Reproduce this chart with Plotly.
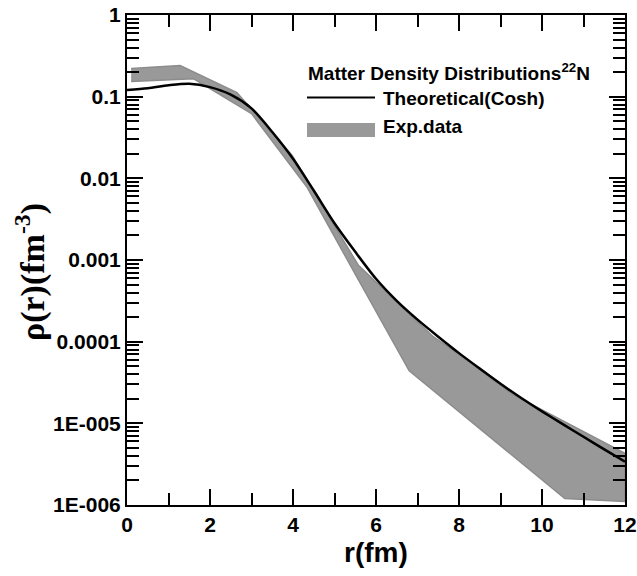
import plotly.graph_objects as go

# Theoretical (Cosh) matter density of 22N
r_theory = [0.0, 0.5, 1.0, 1.5, 2.0, 2.5, 3.0, 3.5, 4.0, 4.5, 5.0, 5.5, 6.0,
            6.5, 7.0, 7.5, 8.0, 8.5, 9.0, 9.5, 10.0, 10.5, 11.0, 11.5, 12.0]
rho_theory = [0.121, 0.127, 0.138, 0.144, 0.131, 0.106, 0.072, 0.037, 0.0174,
              0.0071, 0.00282, 0.00126, 5.89e-4, 3.16e-4, 1.86e-4, 1.15e-4, 7.24e-5,
              4.68e-5, 3.05e-5, 2.04e-5, 1.40e-5, 9.77e-6, 6.84e-6, 4.79e-6, 3.39e-6]

# Experimental band (upper and lower limits)
band_upper_r = [0.1, 1.28, 2.65, 3.97, 5.57, 7.38, 8.2, 9.3, 12.0]
band_upper = [0.222, 0.24, 0.112, 0.0193, 8.7e-4, 1.15e-4, 5.9e-5, 2.25e-5, 4.3e-6]
band_lower_r = [0.1, 1.6, 3.0, 4.33, 5.53, 6.8, 10.55, 12.0]
band_lower = [0.153, 0.166, 0.062, 0.0079, 6.3e-4, 4.4e-5, 1.2e-6, 1.1e-6]

y_tickvals = [1, 0.1, 0.01, 0.001, 0.0001, 1e-5, 1e-6]
y_ticktext = ["1", "0.1", "0.01", "0.001", "0.0001", "1E-005", "1E-006"]
x_tickvals = [0, 2, 4, 6, 8, 10, 12]

band_x = band_upper_r + band_lower_r[::-1]
band_y = band_upper + band_lower[::-1]

fig = go.Figure()
fig.add_trace(go.Scatter(
    x=band_x, y=band_y, mode="lines", fill="toself",
    fillcolor="rgb(153,153,153)", line=dict(color="rgb(140,140,140)", width=1.5),
    name="Exp.data", showlegend=False, hoverinfo="skip"))
fig.add_trace(go.Scatter(
    x=r_theory, y=rho_theory, mode="lines",
    line=dict(color="black", width=2.5, shape="spline", smoothing=0.8),
    name="Theoretical(Cosh)", showlegend=False))

tick_font = dict(family="Liberation Sans, Arial, sans-serif", size=21, color="black", weight="bold")

fig.update_xaxes(
    range=[0, 12], tickvals=x_tickvals, ticktext=[str(v) for v in x_tickvals],
    ticks="inside", ticklen=16, tickwidth=2, tickcolor="black",
    minor=dict(ticks="inside", ticklen=12, tickwidth=2, tickcolor="black", dtick=1),
    showline=True, linewidth=2, linecolor="black", mirror="allticks",
    showgrid=False, zeroline=False, tickfont=tick_font, automargin=False,
    ticklabeloverflow="allow")
fig.update_yaxes(
    type="log", range=[-6, 0], tickvals=y_tickvals, ticktext=y_ticktext,
    ticks="inside", ticklen=16, tickwidth=2, tickcolor="black",
    minor=dict(ticks="inside", ticklen=12, tickwidth=2, tickcolor="black", dtick="D1", showgrid=False),
    showline=True, linewidth=2, linecolor="black", mirror="allticks",
    showgrid=False, zeroline=False, tickfont=tick_font, automargin=False,
    ticklabeloverflow="allow")

# plot area on screen spans x 127-625, y 15-505
PW, PH, L0, B0 = 498.0, 490.0, 127.0, 505.0
def px(xs):
    return (xs - L0) / PW
def py(ys):
    return (B0 - ys) / PH

annotations = [
    dict(text="r(fm)", x=px(376), y=py(552), xref="paper", yref="paper",
         showarrow=False, xanchor="center", yanchor="middle",
         font=dict(family="Liberation Sans, Arial, sans-serif", size=28, color="black", weight="bold")),
    dict(text="ρ(r)(fm<sup>-3</sup>)", x=px(30), y=py(272), xref="paper", yref="paper",
         showarrow=False, xanchor="center", yanchor="middle", textangle=-90,
         font=dict(family="Liberation Serif, Times New Roman, serif", size=34, color="black", weight="bold")),
    dict(text="Matter Density Distributions<sup>22</sup>N", x=px(306), y=py(72), xref="paper", yref="paper",
         showarrow=False, xanchor="left", yanchor="middle",
         font=dict(family="Liberation Sans, Arial, sans-serif", size=19, color="black", weight="bold")),
    dict(text="Theoretical(Cosh)", x=px(381), y=py(98), xref="paper", yref="paper",
         showarrow=False, xanchor="left", yanchor="middle",
         font=dict(family="Liberation Sans, Arial, sans-serif", size=19, color="black", weight="bold")),
    dict(text="Exp.data", x=px(381), y=py(127), xref="paper", yref="paper",
         showarrow=False, xanchor="left", yanchor="middle",
         font=dict(family="Liberation Sans, Arial, sans-serif", size=19, color="black", weight="bold")),
]
shapes = [
    dict(type="line", xref="paper", yref="paper", x0=px(307), x1=px(375), y0=py(97.5), y1=py(97.5),
         line=dict(color="black", width=2)),
    dict(type="rect", xref="paper", yref="paper", x0=px(307), x1=px(375), y0=py(123), y1=py(137),
         fillcolor="rgb(153,153,153)", line=dict(width=0)),
]

fig.update_layout(
    width=637, height=576, autosize=False,
    margin=dict(l=127, r=12, t=15, b=71),
    paper_bgcolor="white", plot_bgcolor="white",
    annotations=annotations, shapes=shapes, showlegend=False)

fig.write_html("out.html", config={"displayModeBar": False},
               post_script="document.body.style.margin='0';document.body.style.overflow='hidden';")
